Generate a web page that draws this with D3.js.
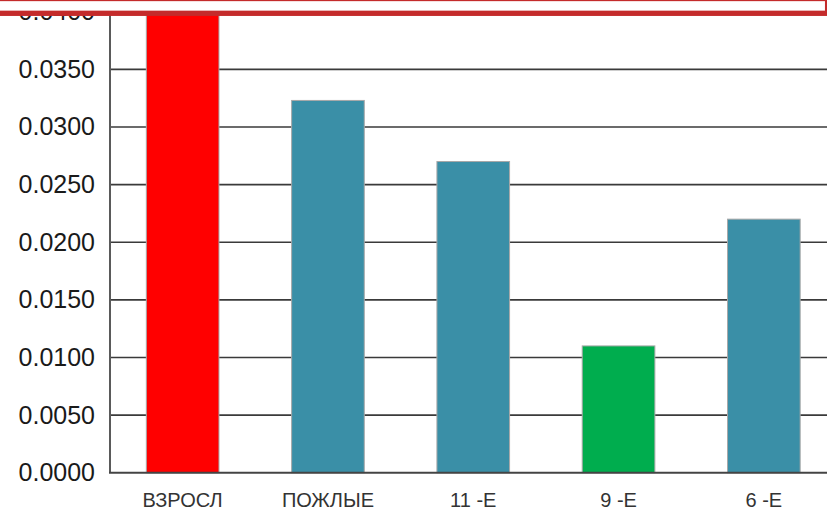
<!DOCTYPE html>
<html>
<head>
<meta charset="utf-8">
<script src="https://cdn.jsdelivr.net/npm/d3@7"></script>
<style>
	body { margin: 0; background: #fff; }
	svg { display: block; font-family: 'Liberation Sans', Arial, sans-serif; }
</style>
</head>
<body>
<div class="graphic__container"></div>
<script>
const categories = ['ВЗРОСЛ', 'ПОЖЛЫЕ', '11 -Е', '9 -Е', '6 -Е']
const values = [0.0415, 0.0323, 0.0270, 0.0110, 0.0220]
const barColors = ['#ff0000', '#3a8fa7', '#3a8fa7', '#00ad4e', '#3a8fa7']
const yTicks = [0, 0.005, 0.01, 0.015, 0.02, 0.025, 0.03, 0.035, 0.04]

const width = 827
const height = 508
const margin = { top: 11.7, bottom: 35.3, left: 110, right: -9.5 }

const svg = d3.select('.graphic__container')
	.append('svg')
	.attr('width', width)
	.attr('height', height)

const scaleX = d3.scaleBand()
	.domain(categories)
	.range([margin.left, width - margin.right])
	.paddingInner(0.5)
	.paddingOuter(0.25)

const scaleY = d3.scaleLinear()
	.domain([0, 0.04])
	.range([height - margin.bottom, margin.top])

// grid lines
svg.append('g')
	.attr('class', 'grid')
	.selectAll('line')
	.data(yTicks.slice(1))
	.enter().append('line')
		.attr('x1', margin.left)
		.attr('x2', width)
		.attr('y1', d => scaleY(d))
		.attr('y2', d => scaleY(d))
		.attr('stroke', '#3a3a3a')
		.attr('stroke-width', 1.6)

// bars
svg.append('g')
	.selectAll('rect')
	.data(values)
	.enter().append('rect')
		.attr('x', (d, i) => scaleX(categories[i]))
		.attr('y', d => scaleY(d))
		.attr('width', scaleX.bandwidth())
		.attr('height', d => scaleY(0) - scaleY(d))
		.attr('fill', (d, i) => barColors[i])
		.attr('stroke', '#a8a8a8')
		.attr('stroke-width', 1)

// y axis
const yAxis = d3.axisLeft(scaleY)
	.tickValues(yTicks)
	.tickFormat(d3.format('.4f'))
	.tickSize(0)
	.tickPadding(15)

const gy = svg.append('g')
	.attr('transform', `translate(${margin.left}, 0)`)
	.call(yAxis)
gy.select('.domain').remove()
gy.selectAll('text')
	.attr('font-size', 25)
	.attr('fill', '#1a1a1a')
	.style('font-family', "'Liberation Sans', Arial, sans-serif")

svg.append('line')
	.attr('x1', margin.left)
	.attr('x2', margin.left)
	.attr('y1', 0)
	.attr('y2', scaleY(0))
	.attr('stroke', '#5a5a5a')
	.attr('stroke-width', 2)

svg.append('line')
	.attr('x1', margin.left - 1)
	.attr('x2', width)
	.attr('y1', scaleY(0))
	.attr('y2', scaleY(0))
	.attr('stroke', '#444')
	.attr('stroke-width', 2)

// x labels
svg.append('g')
	.selectAll('text')
	.data(categories)
	.enter().append('text')
		.attr('x', d => scaleX(d) + scaleX.bandwidth() / 2)
		.attr('y', 506.5)
		.attr('text-anchor', 'middle')
		.attr('font-size', 20)
		.attr('fill', '#333')
		.text(d => d)

// red frame over the top
svg.append('rect')
	.attr('x', -20)
	.attr('y', -1.5)
	.attr('width', 847.6)
	.attr('height', 14.8)
	.attr('fill', '#fff')
	.attr('stroke', '#c42b2b')
	.attr('stroke-width', 5.3)
</script>
</body>
</html>
